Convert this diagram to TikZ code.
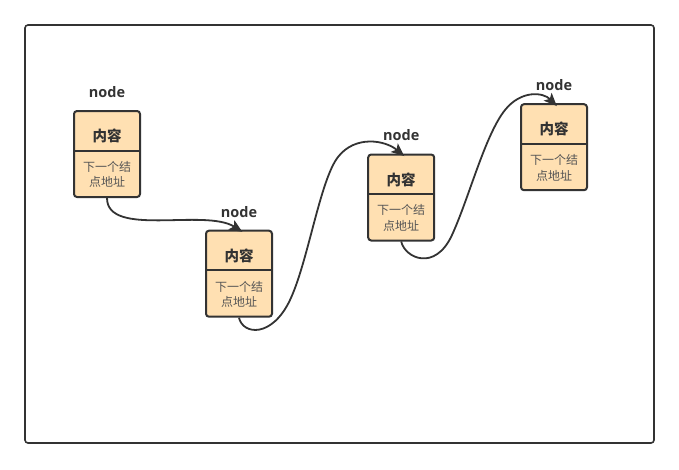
\documentclass[tikz,border=0pt]{standalone}
\usepackage{fontspec}
\setmainfont{Open Sans}
\newfontfamily\cjk{Noto Sans CJK SC}
\usepackage{tikz}
\usetikzlibrary{arrows.meta, positioning, calc}
\definecolor{boxfill}{HTML}{FFE0B2}
\definecolor{boxline}{HTML}{333333}
\definecolor{bodytext}{HTML}{555555}

\begin{document}
\begin{tikzpicture}[
    x=1pt, y=-1pt,
    frame/.style={draw=boxline, line width=1.6pt, rounded corners=3pt},
    box/.style={rectangle, draw=boxline, fill=boxfill, line width=2pt, rounded corners=3pt, minimum width=66pt, minimum height=86pt, inner sep=0pt},
    divider/.style={draw=boxline, line width=2pt},
    head/.style={font=\cjk\bfseries\fontsize{14.5}{16}\selectfont, text=boxline, inner sep=0pt},
    body/.style={font=\cjk\fontsize{12}{15.5}\selectfont, text=bodytext, align=center, inner sep=0pt},
    tag/.style={font=\bfseries\fontsize{14.5}{16}\selectfont, text=boxline, inner sep=0pt},
    link/.style={-{Stealth[length=13pt, width=11pt, inset=3pt]}, line width=1.8pt, draw=boxline, shorten >=-4pt}
]
\useasboundingbox (0,0) rectangle (679,469);
\draw[frame] (25,25) rectangle (654,443);

% list nodes
\node[box] (n1) at (107,154) {};
\node[box] (n2) at (239,273.7) {};
\node[box] (n3) at (401.2,197.5) {};
\node[box] (n4) at (554,147.2) {};

\foreach \n in {n1,n2,n3,n4}{
    \draw[divider] ($(\n.north west)+(0,40.5)$) -- ($(\n.north east)+(0,40.5)$);
    \node[head] (\n-head) at ($(\n.north)+(0,26)$) {内容};
    \node[body] (\n-body) at ($(\n.north)+(0,64.5)$) {下一个结\\点地址};
    \node[tag] (\n-tag) at ($(\n.north)+(0,-18)$) {node};
}

% links
\draw[link] (n1.south) .. controls (107,238) and (205,208) .. (n2.north);
\draw[link] (n2.south) .. controls (243,335) and (272,338) .. (290,300)
    .. controls (308,262) and (320,180) .. (338,157)
    .. controls (355,135) and (385,140) .. (n3.north);
\draw[link] (n3.south) .. controls (405,258) and (435,272) .. (452,235)
    .. controls (469,198) and (485,135) .. (505,110)
    .. controls (521,90) and (543,92) .. (n4.north);
\end{tikzpicture}
\end{document}
